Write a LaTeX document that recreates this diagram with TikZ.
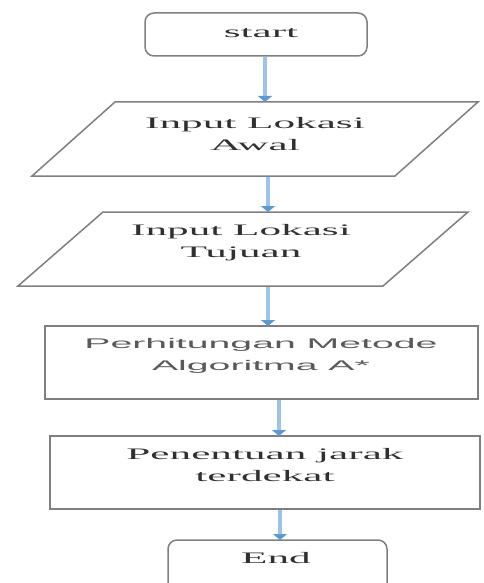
\documentclass[tikz,border=0pt]{standalone}
\usepackage{fontspec}
\setmainfont{Liberation Serif}
\newfontfamily\wideserif[FakeStretch=2.7]{Liberation Serif}
\newfontfamily\widesans[FakeStretch=2.8]{Liberation Sans}
\usetikzlibrary{arrows.meta}
\definecolor{boxline}{HTML}{7F7F7F}
\definecolor{shaft}{HTML}{9DC3E6}
\definecolor{headblue}{HTML}{5B9BD5}
\definecolor{txt}{HTML}{303030}
\begin{document}
\begin{tikzpicture}[x=1pt,y=-1pt,
  box/.style={draw=boxline,line width=1.5pt},
  stxt/.style={align=center,text=txt,font=\wideserif\fontsize{16}{22}\selectfont,inner sep=0pt},
  ssans/.style={align=center,text=txt!80,font=\widesans\fontsize{14}{22}\selectfont,inner sep=0pt},
  flow/.style={draw=shaft,line width=4pt,-{Triangle[width=14pt,length=6pt,color=headblue]},shorten >=-1pt}
]
\useasboundingbox (0,0) rectangle (484,583);
\clip (0,0) rectangle (484,583);
% start
\draw[box,rounded corners=9pt] (145,13) rectangle (367,56);
\node[stxt] (start) at (261,33) {start};
% input awal
\draw[box] (115,102) -- (478,102) -- (395,176) -- (32,176) -- cycle;
\node[stxt] (awal) at (255,134) {Input Lokasi\\Awal};
% input tujuan
\draw[box] (103,212) -- (468,212) -- (383,286) -- (18,286) -- cycle;
\node[stxt] (tujuan) at (241,243) {Input Lokasi\\Tujuan};
% perhitungan
\draw[box] (45,326) rectangle (478,399);
\node[ssans] (hitung) at (261,356) {Perhitungan Metode\\Algoritma A*};
% penentuan
\draw[box] (50,436) rectangle (480,509);
\node[stxt] (jarak) at (265,465) {Penentuan jarak\\terdekat};
% end
\draw[box,rounded corners=9pt] (168,540) rectangle (387,610);
\node[stxt] (end) at (276,558) {End};
% connector end points
\coordinate (a1) at (265,57);
\coordinate (b1) at (265,101);
\coordinate (a2) at (268,177);
\coordinate (b2) at (268,211);
\coordinate (a3) at (268,287);
\coordinate (b3) at (268,325);
\coordinate (a4) at (279,400);
\coordinate (b4) at (279,435);
\coordinate (a5) at (280,510);
\coordinate (b5) at (280,539);
\draw[flow] (a1) -- (b1);
\draw[flow] (a2) -- (b2);
\draw[flow] (a3) -- (b3);
\draw[flow] (a4) -- (b4);
\draw[flow] (a5) -- (b5);
\end{tikzpicture}
\end{document}
